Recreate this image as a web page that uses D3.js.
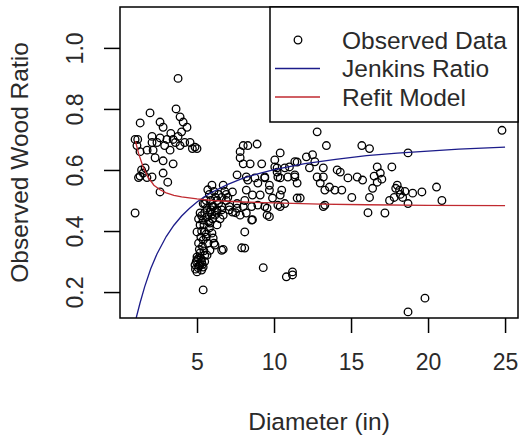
<!DOCTYPE html>
<html>
<head>
<meta charset="utf-8">
<script src="https://cdn.jsdelivr.net/npm/d3@7"></script>
<style>
  body { margin: 0; background: #fff; }
  svg { display: block; }
  text { font-family: "Liberation Sans", Arial, sans-serif; fill: #2a2a2a; }
</style>
</head>
<body>
<div id="chart"></div>
<script>
// observed points: diameter (in) and wood ratio
const diameter = [
  3.77, 3.64, 1.95, 1.31, 2.6, 2.8, 3.9, 4.1, 4.35, 2.08, 2.08, 2.6, 3.05, 3.45, 3.77, 4.0, 4.2, 4.55, 5.0, 4.7,
  3.25, 2.15, 1.76, 0.98, 1.1, 1.3, 2.28, 2.8, 3.45, 1.63, 4.87, 3.6, 3.9, 2.4, 2.9, 3.3, 1.15,
  1.5, 1.3, 1.75, 2.08, 2.8, 3.1, 2.6, 0.98, 1.2, 1.4,
  5.4, 5.84, 6.3, 5.0, 5.5, 5.97, 5.4, 5.7, 6.17, 6.6, 5.2, 5.65, 5.0, 5.3, 4.87, 5.06, 5.4, 5.0, 5.3, 5.5,
  5.84, 6.05, 5.2, 5.65, 6.17, 5.2, 5.65, 6.05, 6.6, 7.1, 7.6, 8.2, 5.4, 6.7, 7.9, 8.1, 8.55, 7.3, 7.8,
  5.1, 5.2, 4.95, 5.5, 5.35, 5.6, 5.8, 5.3, 6.0, 5.5, 5.9, 5.6, 6.2, 5.8, 6.3, 5.4, 5.9, 6.5, 6.4, 6.8,
  5.15, 5.25, 6.1, 5.45, 5.1,
  4.9, 5.15, 5.35, 5.0, 5.25, 5.45, 5.1, 5.6, 5.3, 5.75, 6.0, 6.4, 6.1, 5.7, 6.6, 6.9, 6.2, 5.95,
  5.97, 6.7, 7.6, 8.2, 8.76, 9.4, 10.2, 10.4, 10.9, 11.35, 11.5, 9.7, 10.5, 7.3, 8.2, 8.6, 9.1, 9.9, 10.25,
  9.55, 9.55, 7.1, 6.6, 7.6, 8.0, 8.55, 8.95, 5.5, 5.84, 6.3, 6.7, 11.5, 7.5, 8.1, 7.0, 6.9,
  8.0, 8.3, 8.9, 7.8, 7.8, 8.0, 8.45, 9.2, 10.4, 10.05, 10.05, 11.0, 11.5,
  12.8, 13.4, 15.7, 16.2, 12.1, 12.5, 12.65, 11.35, 13.2, 14.1, 12.3, 10.7, 10.2, 10.25, 11.35, 12.8, 13.2,
  14.3, 14.8, 15.4, 15.75, 13.0, 13.6, 13.95, 14.4, 13.3, 15.05, 11.7, 10.4, 9.7, 9.4, 8.3, 8.95, 10.7, 9.4,
  13.3, 16.2,
  9.3, 10.8, 11.2, 11.2, 13.2, 16.1, 8.6, 9.7, 10.4, 8.1,
  24.8, 18.7, 17.65, 16.7, 16.9, 16.7, 18.0, 18.15, 17.8, 18.35, 19.0, 19.6, 20.55, 20.9, 17.5, 18.7, 17.2,
  19.8, 18.7, 16.5, 17.0, 18.2, 18.5, 16.4, 17.9
];
const woodRatio = [
  0.90, 0.80, 0.787, 0.754, 0.757, 0.74, 0.774, 0.757, 0.74, 0.71, 0.69, 0.705, 0.70, 0.70, 0.71, 0.725, 0.69, 0.69, 0.67, 0.67,
  0.665, 0.665, 0.665, 0.70, 0.68, 0.66, 0.64, 0.63, 0.62, 0.607, 0.675, 0.69, 0.68, 0.69, 0.68, 0.72, 0.70,
  0.59, 0.58, 0.575, 0.577, 0.59, 0.56, 0.528, 0.459, 0.575, 0.60,
  0.436, 0.426, 0.42, 0.397, 0.397, 0.393, 0.37, 0.36, 0.354, 0.337, 0.328, 0.321, 0.305, 0.30, 0.289, 0.28, 0.282, 0.266, 0.272, 0.30,
  0.337, 0.377, 0.42, 0.446, 0.452, 0.459, 0.475, 0.48, 0.469, 0.48, 0.475, 0.459, 0.207, 0.34, 0.345, 0.397, 0.436, 0.462, 0.452,
  0.31, 0.29, 0.30, 0.32, 0.35, 0.38, 0.41, 0.40, 0.44, 0.46, 0.50, 0.50, 0.51, 0.52, 0.50, 0.49, 0.47, 0.44, 0.52, 0.53,
  0.34, 0.38, 0.36, 0.42, 0.44,
  0.275, 0.285, 0.29, 0.315, 0.31, 0.335, 0.36, 0.39, 0.45, 0.43, 0.48, 0.49, 0.53, 0.535, 0.51, 0.52, 0.465, 0.455,
  0.55, 0.55, 0.584, 0.577, 0.574, 0.574, 0.593, 0.574, 0.577, 0.584, 0.557, 0.534, 0.534, 0.528, 0.534, 0.518, 0.518, 0.508, 0.485,
  0.475, 0.452, 0.469, 0.48, 0.49, 0.48, 0.48, 0.485, 0.49, 0.462, 0.469, 0.452, 0.508, 0.46, 0.50, 0.51, 0.50,
  0.68, 0.68, 0.685, 0.66, 0.64, 0.62, 0.62, 0.62, 0.656, 0.633, 0.61, 0.61, 0.626,
  0.725, 0.68, 0.68, 0.67, 0.643, 0.65, 0.627, 0.627, 0.607, 0.60, 0.607, 0.607, 0.607, 0.577, 0.577, 0.577, 0.577,
  0.593, 0.574, 0.577, 0.567, 0.557, 0.544, 0.534, 0.534, 0.534, 0.51, 0.508, 0.518, 0.55, 0.577, 0.567, 0.557, 0.49, 0.48,
  0.485, 0.51,
  0.28, 0.25, 0.256, 0.266, 0.48, 0.46, 0.437, 0.447, 0.48, 0.344,
  0.73, 0.656, 0.61, 0.61, 0.59, 0.56, 0.55, 0.534, 0.51, 0.51, 0.524, 0.528, 0.544, 0.50, 0.50, 0.49, 0.459,
  0.18, 0.135, 0.58, 0.57, 0.52, 0.53, 0.54, 0.54
];

// Jenkins ratio curve
const jenkinsX = [1.05, 1.3, 1.6, 2.0, 2.4, 3.0, 3.5, 4.0, 4.5, 5.0, 5.5, 6, 7, 8, 9, 10, 12, 14, 16, 18, 20, 22, 25];
const jenkinsY = [0.115, 0.164, 0.217, 0.277, 0.325, 0.382, 0.419, 0.449, 0.474, 0.495, 0.513, 0.528, 0.553,
  0.573, 0.588, 0.601, 0.621, 0.635, 0.647, 0.655, 0.662, 0.668, 0.675];

// refit model curve
const refitX = [1.0, 1.2, 1.5, 1.8, 2.2, 2.6, 3.0, 3.5, 4.0, 5.0, 6.0, 8.0, 10, 13, 16, 20, 25];
const refitY = [0.695, 0.655, 0.61, 0.578, 0.55, 0.535, 0.525, 0.517, 0.512, 0.505, 0.5, 0.495, 0.492, 0.488,
  0.486, 0.484, 0.483];

const xTicks = [5, 10, 15, 20, 25];
const yTicks = [0.2, 0.4, 0.6, 0.8, 1.0];
const legendLabels = ["Observed Data", "Jenkins Ratio", "Refit Model"];

const width = 521, height = 438;
const box = { left: 120, top: 7, right: 518, bottom: 318 };
const tickFont = 23, labelFont = 24.5;
const blue = "#1c1c8a", red = "#c02a30";

const svg = d3.select("#chart").append("svg")
  .attr("width", width)
  .attr("height", height);

const x = d3.scaleLinear().domain([0.0, 25.84]).range([box.left, box.right]);
const y = d3.scaleLinear().domain([0.115, 1.134]).range([box.bottom, box.top]);

// clip curves to the plot box
svg.append("clipPath").attr("id", "plotClip")
  .append("rect")
  .attr("x", box.left).attr("y", box.top)
  .attr("width", box.right - box.left).attr("height", box.bottom - box.top);

// points
svg.append("g")
  .selectAll("circle")
  .data(diameter.map((d, i) => [d, woodRatio[i]]))
  .join("circle")
  .attr("cx", d => x(d[0]))
  .attr("cy", d => y(d[1]))
  .attr("r", 3.8)
  .attr("fill", "none")
  .attr("stroke", "#000")
  .attr("stroke-width", 1.3);

const line = d3.line().x(d => x(d[0])).y(d => y(d[1]));

svg.append("path")
  .datum(jenkinsX.map((d, i) => [d, jenkinsY[i]]))
  .attr("clip-path", "url(#plotClip)")
  .attr("fill", "none")
  .attr("stroke", blue)
  .attr("stroke-width", 1.3)
  .attr("d", line);

svg.append("path")
  .datum(refitX.map((d, i) => [d, refitY[i]]))
  .attr("clip-path", "url(#plotClip)")
  .attr("fill", "none")
  .attr("stroke", red)
  .attr("stroke-width", 1.3)
  .attr("d", line);

// axes
const xAxis = svg.append("g")
  .attr("transform", `translate(0,${box.bottom})`)
  .call(d3.axisBottom(x).tickValues(xTicks).tickSize(15).tickFormat(d3.format("d")));
xAxis.select(".domain").remove();
xAxis.selectAll("line").attr("stroke", "#000").attr("stroke-width", 1.5);
xAxis.selectAll("text")
  .attr("y", 44).attr("dy", null)
  .attr("dominant-baseline", "central")
  .style("font-size", tickFont + "px")
  .style("font-family", "Liberation Sans, Arial, sans-serif")
  .attr("fill", "#2a2a2a");

const yAxis = svg.append("g")
  .attr("transform", `translate(${box.left},0)`)
  .call(d3.axisLeft(y).tickValues(yTicks).tickSize(16).tickFormat(d3.format(".1f")));
yAxis.select(".domain").remove();
yAxis.selectAll("line").attr("stroke", "#000").attr("stroke-width", 1.5);
yAxis.selectAll("text")
  .attr("x", 0).attr("y", -45).attr("dy", null)
  .attr("transform", "rotate(-90)")
  .attr("text-anchor", "middle")
  .attr("dominant-baseline", "central")
  .style("font-size", tickFont + "px")
  .style("font-family", "Liberation Sans, Arial, sans-serif")
  .attr("fill", "#2a2a2a");

// plot frame
svg.append("rect")
  .attr("x", box.left).attr("y", box.top)
  .attr("width", box.right - box.left).attr("height", box.bottom - box.top)
  .attr("fill", "none")
  .attr("stroke", "#000")
  .attr("stroke-width", 1.5);

// axis titles
svg.append("text")
  .attr("x", (box.left + box.right) / 2)
  .attr("y", 421)
  .attr("text-anchor", "middle")
  .attr("dominant-baseline", "central")
  .style("font-size", labelFont + "px")
  .text("Diameter (in)");

svg.append("text")
  .attr("transform", `translate(19,${(box.top + box.bottom) / 2}) rotate(-90)`)
  .attr("text-anchor", "middle")
  .attr("dominant-baseline", "central")
  .style("font-size", labelFont + "px")
  .text("Observed Wood Ratio");

// legend
const legend = svg.append("g");
legend.append("rect")
  .attr("x", 270).attr("y", box.top)
  .attr("width", box.right - 270).attr("height", 122 - box.top)
  .attr("fill", "#fff")
  .attr("stroke", "#000")
  .attr("stroke-width", 1.5);

const rowY = [40, 68.5, 97];
legend.append("circle")
  .attr("cx", 298).attr("cy", rowY[0]).attr("r", 3.8)
  .attr("fill", "none").attr("stroke", "#000").attr("stroke-width", 1.3);
[blue, red].forEach((c, i) => {
  legend.append("line")
    .attr("x1", 275).attr("x2", 320)
    .attr("y1", rowY[i + 1]).attr("y2", rowY[i + 1])
    .attr("stroke", c).attr("stroke-width", 1.3);
});
legendLabels.forEach((t, i) => {
  legend.append("text")
    .attr("x", 342)
    .attr("y", rowY[i] + 8.5)
    .style("font-size", labelFont + "px")
    .text(t);
});
</script>
</body>
</html>
